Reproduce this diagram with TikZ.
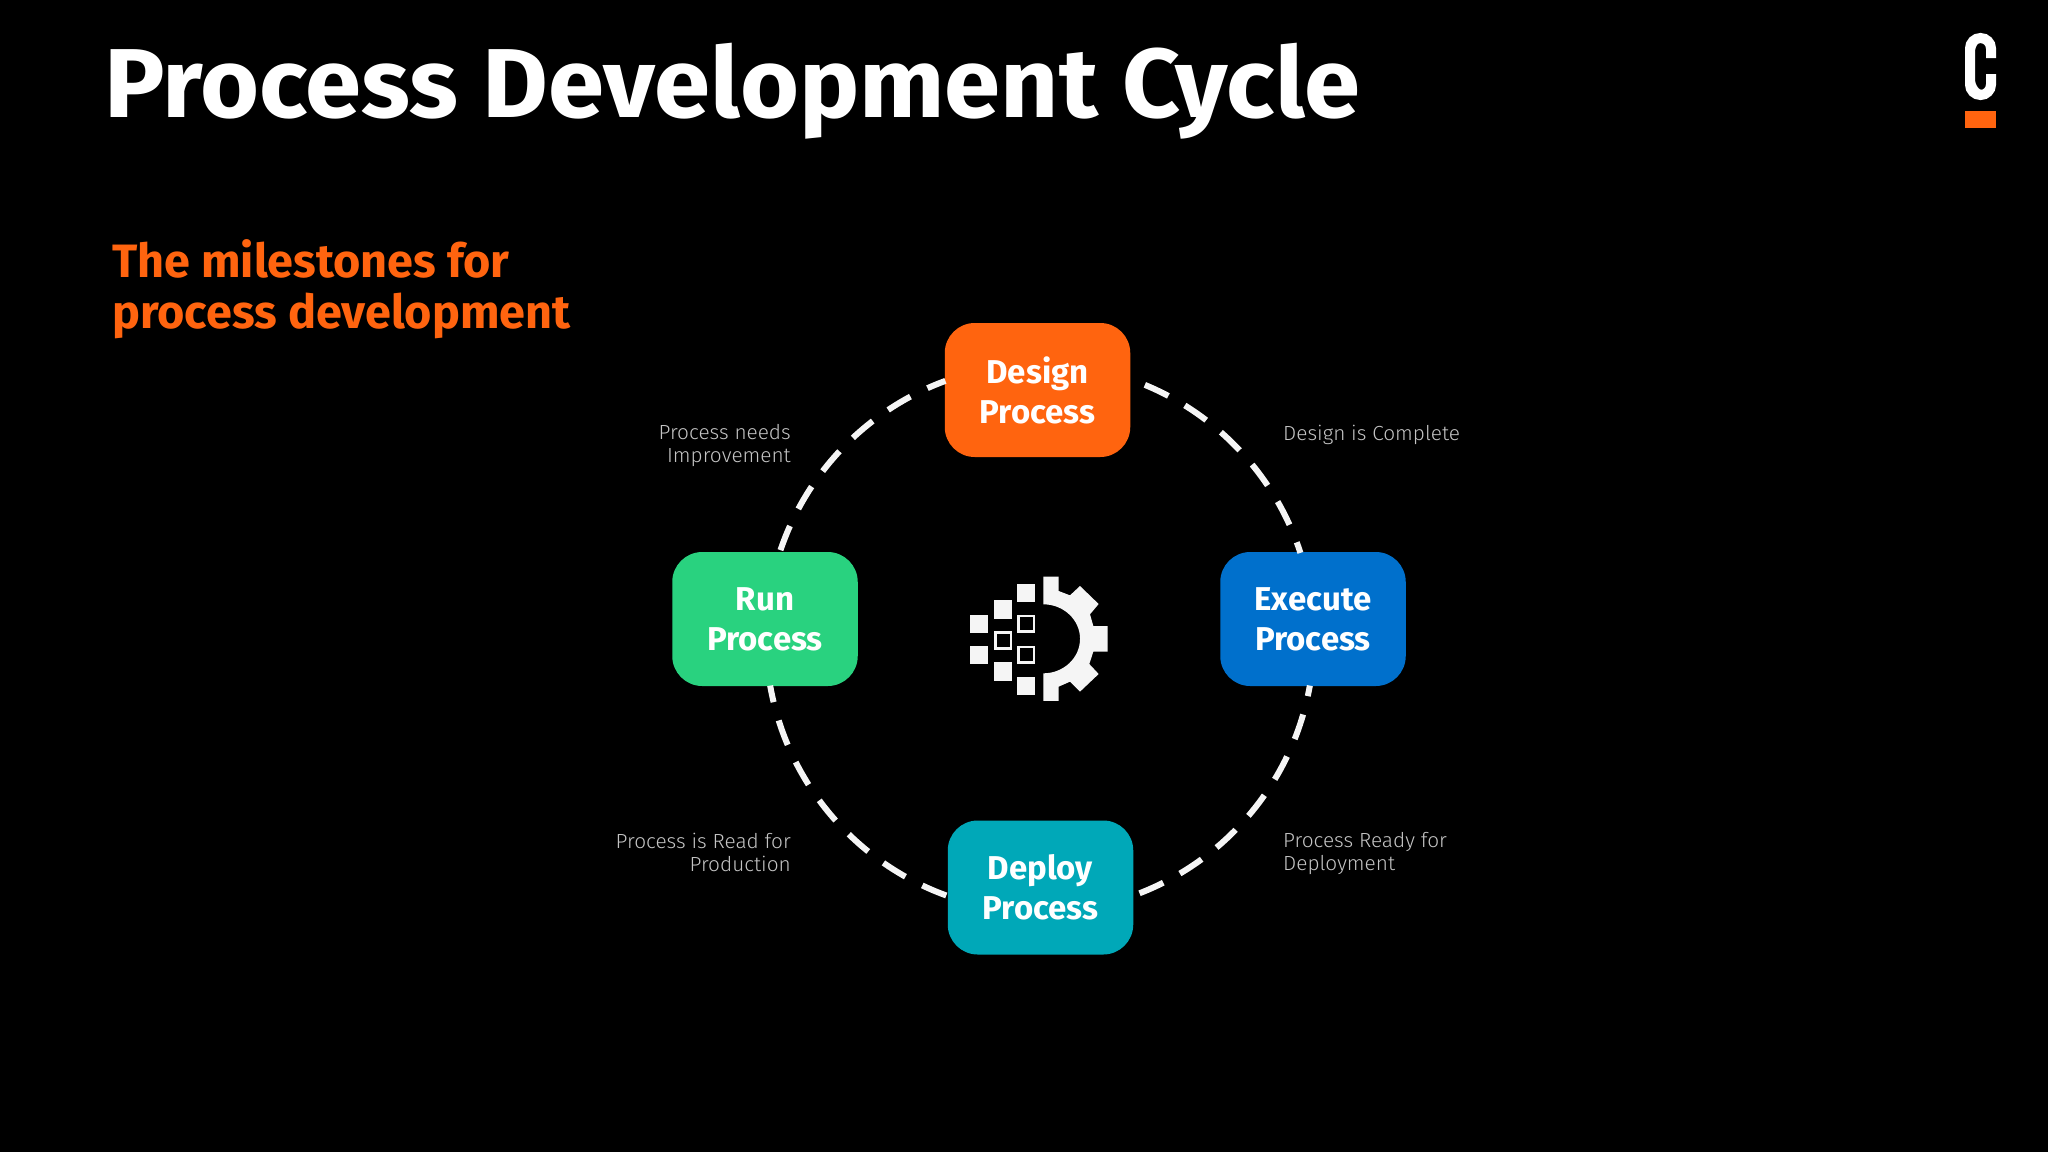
\documentclass[tikz,border=0pt]{standalone}
\usepackage{fontspec}
\setmainfont{Fira Sans}
\newfontfamily\titlefont[FakeStretch=1.032]{Fira Sans}
\newfontfamily\notefont[FakeStretch=1.02]{Fira Sans Light}
\newfontfamily\logofont[FakeStretch=0.55]{Fira Sans}
\definecolor{cOrange}{HTML}{FF640F}
\definecolor{cGreen}{HTML}{29D27F}
\definecolor{cBlue}{HTML}{0070CC}
\definecolor{cTeal}{HTML}{00A8B8}
\definecolor{cLabel}{HTML}{C4C4C4}
\definecolor{cWhite}{HTML}{F5F5F5}
\tikzset{
  stage/.style={fill=#1,draw=none,rounded corners=30pt,minimum width=185.5pt,minimum height=134pt,inner sep=0pt,
    align=center,text=white,font=\fontsize{33}{40}\selectfont\bfseries},
  flow/.style={draw=cWhite,line width=6pt,dash pattern=on 26pt off 19pt},
  note/.style={text=cLabel,font=\notefont\fontsize{20.4}{23}\selectfont,inner sep=0pt},
  cell/.style={fill=cWhite,draw=none},
  hollow/.style={draw=cWhite,line width=2.8pt,fill=none}
}
\begin{document}
\begin{tikzpicture}[x=1pt,y=1pt]
\fill[black] (0,0) rectangle (2048,-1152);
\useasboundingbox (0,0) rectangle (2048,-1152);
\node[anchor=base west,inner sep=0pt,text=white,font=\titlefont\fontsize{98}{98}\selectfont\bfseries] (title) at (104,-117) {Process Development Cycle};
\node[anchor=north west,inner sep=0pt,align=left,text=cOrange,font=\fontsize{46.8}{51}\selectfont\bfseries] (sub) at (112,-239) {The milestones for\\process development};
% logo
\node[anchor=center,inner sep=0pt,text=white,font=\logofont\fontsize{88}{88}\selectfont] (logo) at (1980.5,-66.5) {C};
\draw[white,line width=10pt] (1991,-58) -- (1991,-48.5) arc[start angle=0,end angle=180,radius=10.5pt] -- (1970,-84.5) arc[start angle=180,end angle=360,radius=10.5pt] -- (1991,-74);
\fill[cOrange] (1965,-111) rectangle (1996,-128);
% stages
\node[stage=cOrange] (design) at (1037.5,-390) {Design\\Process};
\node[stage=cBlue] (execute) at (1313,-619) {Execute\\Process};
\node[stage=cTeal] (deploy) at (1040.5,-887.5) {Deploy\\Process};
\node[stage=cGreen] (run) at (765,-619) {Run\\Process};
% ring
\coordinate (o) at (1040,-638);
\coordinate (design-out) at ([shift={(67.5:274pt)}]o);
\coordinate (deploy-out) at ([shift={(-68.7:274pt)}]o);
\coordinate (deploy-in) at ([shift={(250:274pt)}]o);
\coordinate (run-out) at ([shift={(161.3:274pt)}]o);
\draw[flow] (design-out) arc[start angle=67.5,end angle=18.1,radius=274pt];
\draw[flow] (deploy-out) arc[start angle=-68.7,end angle=-10,radius=274pt];
\draw[flow] (deploy-in) arc[start angle=250,end angle=190,radius=274pt];
\draw[flow] (run-out) arc[start angle=161.3,end angle=110.2,radius=274pt];
% notes
\node[note,anchor=north east,align=right] (n1) at (791,-424.5) {Process needs\\Improvement};
\node[note,anchor=north west,align=left] (n2) at (1283,-424.5) {Design is Complete};
\node[note,anchor=north east,align=right] (n3) at (791,-832.5) {Process is Read for\\Production};
\node[note,anchor=north west,align=left] (n4) at (1283,-832.5) {Process Ready for\\Deployment};
% icon
\begin{scope}[shift={(920pt,-550pt)},x=0.3333pt,y=-0.3333pt]
\foreach \a/\b in {149/194,149/287,222/151,222/337,291/101,291/380}
  \fill[cell] (\a,\b) rectangle ++(55,55);
\foreach \a/\b in {222/244,291/194,291/287}
  \draw[hollow] (\a+4.2,\b+4.2) rectangle ++(46.6,46.6);
\fill[cell] (370,80) -- (416,80) -- (416,123) -- (450,136) -- (480,108) -- (536,162) -- (510,193) -- (520,228) -- (563,228) -- (563,305) -- (520,305) -- (508,342) -- (536,372) -- (480,425) -- (450,395) -- (416,410) -- (416,453) -- (370,453) -- (370,370) arc[start angle=-90,end angle=90,x radius=36.7pt,y radius=34.5pt] -- cycle;
\end{scope}
\end{tikzpicture}
\end{document}
